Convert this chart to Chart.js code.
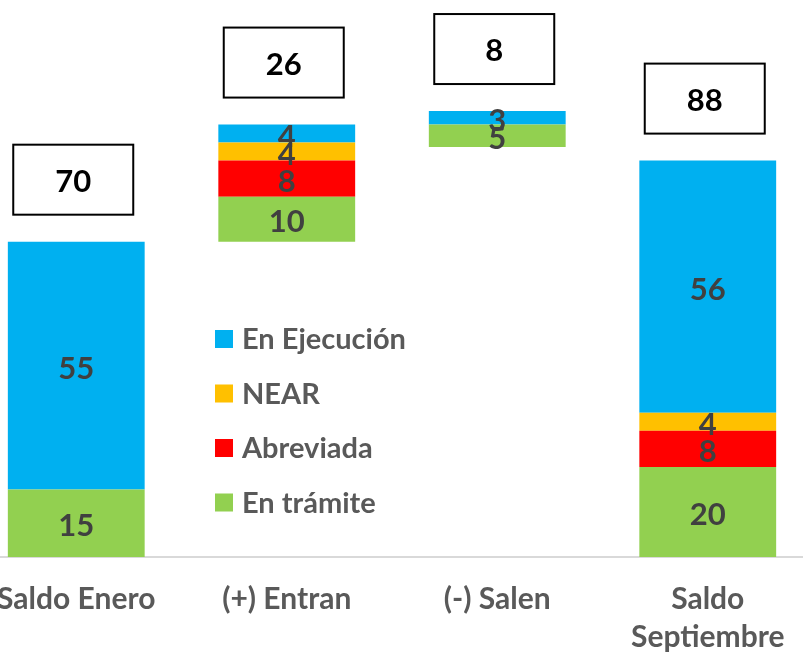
<!DOCTYPE html>
<html>
<head>
<meta charset="utf-8">
<script src="https://cdn.jsdelivr.net/npm/chart.js@4.4.0/dist/chart.umd.min.js"></script>
<style>
  html, body { margin: 0; padding: 0; background: #fff; overflow: hidden; }
  #wrap { position: absolute; left: -29px; top: 0; width: 842px; height: 672px; }
</style>
</head>
<body>
<div id="wrap"><canvas id="chart"></canvas></div>
<script>
const categories = ['Saldo Enero', '(+) Entran', '(-) Salen', ['Saldo', 'Septiembre']];
const base = [0, 70, 91, 0];
const enTramite = [15, 10, 5, 20];
const abreviada = [0, 8, 0, 8];
const near = [0, 4, 0, 4];
const enEjecucion = [55, 4, 3, 56];
const totals = [70, 26, 8, 88];

const FONT = 'Lato, "Open Sans", sans-serif';

const series = [
  { label: 'En trámite', data: enTramite, color: '#92D050' },
  { label: 'Abreviada', data: abreviada, color: '#FF0000' },
  { label: 'NEAR', data: near, color: '#FFC000' },
  { label: 'En Ejecución', data: enEjecucion, color: '#00B0F0' }
];

const datasets = [{ label: 'base', data: base, backgroundColor: 'rgba(0,0,0,0)' }]
  .concat(series.map(s => ({ label: s.label, data: s.data, backgroundColor: s.color })));

// numbers inside the segments, boxes with totals, legend in the middle
const labelsPlugin = {
  id: 'labels',
  afterDatasetsDraw(chart) {
    const ctx = chart.ctx;
    ctx.save();
    ctx.textAlign = 'center';
    ctx.textBaseline = 'middle';
    ctx.font = 'bold 31px ' + FONT;
    ctx.fillStyle = '#404040';
    for (let d = 1; d < chart.data.datasets.length; d++) {
      const meta = chart.getDatasetMeta(d);
      meta.data.forEach((bar, i) => {
        const v = chart.data.datasets[d].data[i];
        if (!v) return;
        ctx.fillText(String(v), bar.x, (bar.y + bar.base) / 2 + 3);
      });
    }

    // total boxes above each stack
    const top = chart.getDatasetMeta(chart.data.datasets.length - 1);
    top.data.forEach((bar, i) => {
      const w = 120, h = 70;
      const bx = bar.x - w / 2 - 3;
      const by = bar.y - 27 - h;
      ctx.fillStyle = '#fff';
      ctx.fillRect(bx, by, w, h);
      ctx.lineWidth = 2;
      ctx.strokeStyle = '#000';
      ctx.strokeRect(bx, by, w, h);
      ctx.fillStyle = '#000';
      ctx.font = 'bold 31px ' + FONT;
      ctx.fillText(String(totals[i]), bx + w / 2, by + h / 2 + 2);
    });

    // legend
    const lx = chart.chartArea.left + 244;
    let ly = 339;
    ctx.textAlign = 'left';
    ctx.font = 'bold 29px ' + FONT;
    series.slice().reverse().forEach(s => {
      ctx.fillStyle = s.color;
      ctx.fillRect(lx, ly - 9, 18, 18);
      ctx.fillStyle = '#595959';
      ctx.fillText(s.label, lx + 27, ly + 1);
      ly += 54.5;
    });
    ctx.restore();
  }
};

new Chart(document.getElementById('chart'), {
  type: 'bar',
  data: { labels: categories, datasets: datasets },
  options: {
    responsive: true,
    maintainAspectRatio: false,
    animation: false,
    datasets: { bar: { barPercentage: 0.65, categoryPercentage: 1 } },
    layout: { padding: { top: 61.5, left: 0, right: 0, bottom: 0 } },
    plugins: { legend: { display: false }, tooltip: { enabled: false } },
    scales: {
      x: {
        stacked: true,
        grid: { display: false },
        border: { display: true, color: '#d9d9d9', width: 2 },
        ticks: {
          color: '#595959',
          font: { family: FONT, size: 30, weight: 'bold', lineHeight: 1.25 },
          padding: 16,
          maxRotation: 0,
          autoSkip: false
        }
      },
      y: { stacked: true, display: false, min: 0, max: 110 }
    }
  },
  plugins: [labelsPlugin]
});
</script>
</body>
</html>
